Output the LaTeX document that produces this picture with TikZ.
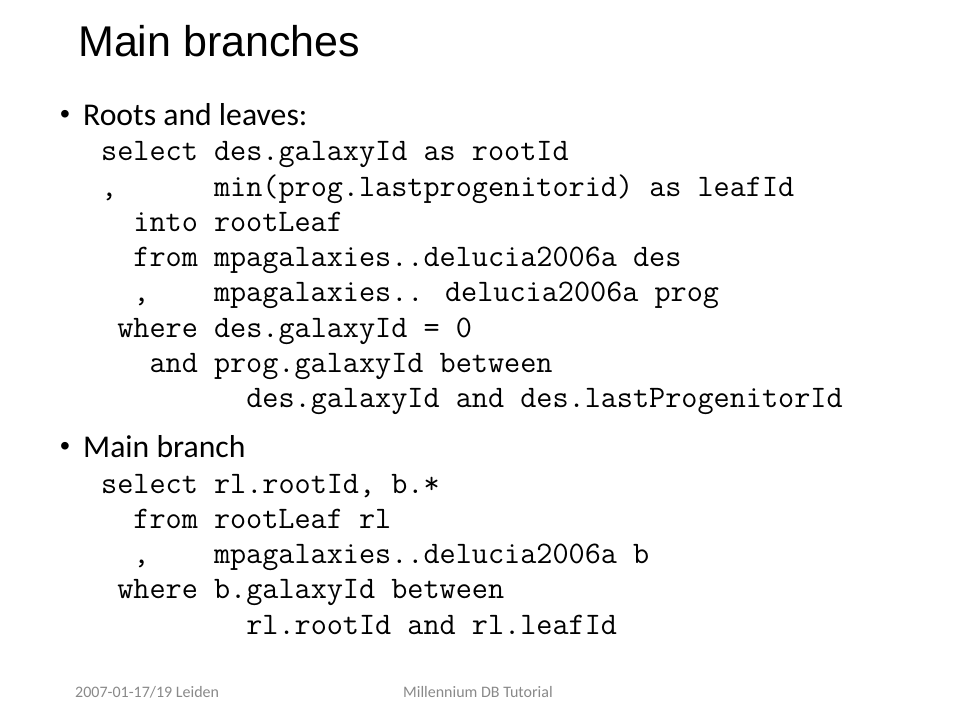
\documentclass[tikz,border=0pt]{standalone}
\usepackage{fontspec}
\setmainfont{Carlito}
\newfontfamily\titlefont{Liberation Sans}
\definecolor{footgray}{HTML}{898989}

\tikzset{
	slidetitle/.style={anchor=base west, inner sep=0pt, font=\titlefont\fontsize{43}{43}\selectfont},
	bullet/.style={anchor=base west, inner sep=0pt, font=\fontsize{31.7}{31.7}\selectfont},
	bulletdot/.style={anchor=base west, inner sep=0pt, font=\titlefont\fontsize{28}{28}\selectfont},
	codeline/.style={anchor=base west, inner sep=0pt, font=\ttfamily\fontsize{31.3}{31.3}\selectfont},
	footer/.style={anchor=base west, inner sep=0pt, text=footgray, font=\fontsize{16}{16}\selectfont}
}

\begin{document}
\begin{tikzpicture}[x=1pt, y=-1pt]
	\useasboundingbox (0, 0) rectangle (960, 720);

	\node[slidetitle] (title) at (78, 56) {Main branches};

	% roots and leaves
	\node[bulletdot] (dotA) at (60, 123) {\textbullet};
	\node[bullet] (roots) at (83, 125) {Roots and leaves:};
	\foreach \n/\y/\txt in {
		1/160.7/{select des.galaxyId as rootId},
		2/196.0/{,~~~~~~min(prog.lastprogenitorid) as leafId},
		3/231.3/{~~into rootLeaf},
		4/266.6/{~~from mpagalaxies..delucia2006a des},
		5/301.9/{~~,~~~~mpagalaxies.. delucia2006a prog},
		6/337.2/{~where des.galaxyId = 0},
		7/372.5/{~~~and prog.galaxyId between},
		8/407.8/{~~~~~~~~~des.galaxyId and des.lastProgenitorId}}
		\node[codeline] (rootsql\n) at (101, \y) {\txt};

	% main branch
	\node[bulletdot] (dotB) at (60, 455) {\textbullet};
	\node[bullet] (branch) at (83, 457) {Main branch};
	\foreach \n/\y/\txt in {
		1/493.0/{select rl.rootId, b.*},
		2/528.3/{~~from rootLeaf rl},
		3/563.6/{~~,~~~~mpagalaxies..delucia2006a b},
		4/598.9/{~where b.galaxyId between},
		5/634.2/{~~~~~~~~~rl.rootId and rl.leafId}}
		\node[codeline] (branchsql\n) at (101, \y) {\txt};

	\node[footer] (date) at (75, 697) {2007-01-17/19 Leiden};
	\node[footer] (event) at (403, 697) {Millennium DB Tutorial};
\end{tikzpicture}
\end{document}
